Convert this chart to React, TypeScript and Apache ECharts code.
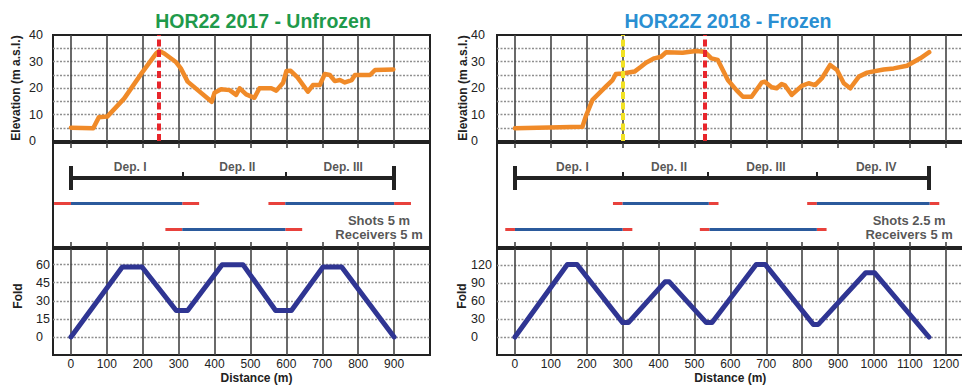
import React, { useEffect, useRef } from 'react';
import * as echarts from 'echarts';

// ---------------- Data ----------------
const titles = ['HOR22 2017 - Unfrozen', 'HOR22Z 2018 - Frozen'];

const elev2017: [number, number][] = [
  [0, 5], [62, 4.8], [78, 9], [101, 9.2], [148, 16], [199, 26], [237, 33], [246, 34], [260, 33],
  [293, 29.7], [306, 27.4], [325, 22.4], [392, 14.8], [400, 18.2], [418, 19.5], [442, 19.2],
  [460, 17.4], [470, 19.9], [488, 17.6], [511, 16.3], [525, 19.9], [558, 19.9], [572, 19],
  [591, 22], [600, 26.4], [612, 26.5], [631, 24], [660, 18.6], [674, 21.1], [693, 21.1],
  [707, 25.3], [721, 24.9], [735, 22.6], [749, 23], [763, 22.1], [782, 23], [791, 24.9],
  [833, 24.9], [847, 26.8], [898, 27],
];

const elev2018: [number, number][] = [
  [0, 4.8], [188, 5.4], [197, 9.2], [216, 15.5], [230, 17.4], [253, 20.5], [272, 23], [281, 25.3],
  [300, 25.5], [333, 26.2], [351, 28], [365, 29.5], [388, 31.2], [407, 31.8], [421, 33.5],
  [467, 33.3], [504, 34], [528, 33.7], [547, 31.2], [565, 30.6], [593, 23], [617, 19.2],
  [635, 16.7], [659, 16.7], [687, 22], [696, 22.4], [715, 20.3], [729, 19.9], [743, 21.5],
  [752, 21], [771, 17.4], [799, 20.8], [818, 21.8], [836, 21.1], [855, 23.7], [878, 28.7],
  [897, 26.8], [916, 21.8], [934, 19.9], [958, 24.3], [981, 25.8], [1027, 27], [1055, 27.4],
  [1092, 28.4], [1129, 31.2], [1154, 33.5],
];

const fold2017: [number, number][] = [
  [0, 0], [143, 58], [198, 58], [293, 22], [325, 22], [421, 60], [479, 60],
  [570, 22], [614, 22], [702, 58], [754, 58], [900, 0],
];

const fold2018: [number, number][] = [
  [0, 0], [146, 121], [173, 121], [300, 24], [316, 24], [418, 92], [430, 92],
  [533, 24], [549, 24], [672, 121], [697, 121], [831, 21], [845, 21],
  [977, 107], [1002, 107], [1153, 0],
];

const depBreaks2017 = [0, 310, 597, 900];
const depBreaks2018 = [0, 300, 538, 840, 1153];
const depNames2017 = ['Dep. I', 'Dep. II', 'Dep. III'];
const depNames2018 = ['Dep. I', 'Dep. II', 'Dep. III', 'Dep. IV'];

// receiver spreads: [from, to, row]
const spreads2017: [number, number, number][] = [[0, 310, 0], [597, 900, 0], [310, 597, 1]];
const spreads2018: [number, number, number][] = [[300, 540, 0], [841, 1155, 0], [0, 300, 1], [542, 841, 1]];
const shotExt2017 = 47;
const shotExt2018 = 27;

const spacing2017 = ['Shots 5 m', 'Receivers 5 m'];
const spacing2018 = ['Shots 2.5 m', 'Receivers 5 m'];

const markers2017 = [{ x: 245, color: '#e8262c' }];
const markers2018 = [{ x: 300, color: '#f2e224' }, { x: 530, color: '#e8262c' }];

// ---------------- Styles ----------------
const FONT = 'Liberation Sans, Arial, Helvetica, sans-serif';
const ORANGE = '#f08a28';
const NAVY = '#2f3593';
const BLUE = '#2b5a9c';
const RED = '#e8413c';
const FRAME = '#222';
const VGRID = '#444444';
const HGRID = '#8f8f8f';

type Panel = {
  left: number; width: number; xMax: number; labelMax: number;
  elev: [number, number][]; fold: [number, number][];
  foldMin: number; foldMax: number; foldStep: number; foldLabelMax: number;
  breaks: number[]; names: string[]; spreads: [number, number, number][]; ext: number;
  spacing: string[]; spacingX: number; markers: { x: number; color: string }[];
  distPad: number; elevMargin: number; foldMargin: number; elevGap: number; foldGap: number;
  title: string; titleX: number; titleColor: string;
};

const panels: Panel[] = [
  {
    left: 53, width: 377, xMax: 1000, labelMax: 900, elev: elev2017, fold: fold2017,
    foldMin: -15, foldMax: 73, foldStep: 15, foldLabelMax: 60,
    breaks: depBreaks2017, names: depNames2017, spreads: spreads2017, ext: shotExt2017,
    spacing: spacing2017, spacingX: 858, markers: markers2017,
    distPad: 30, elevMargin: 24, foldMargin: 17, elevGap: 31, foldGap: 29,
    title: titles[0], titleX: 263, titleColor: '#1f9a4b',
  },
  {
    left: 497, width: 466.7, xMax: 1250, labelMax: 1200, elev: elev2018, fold: fold2018,
    foldMin: -30, foldMax: 146.7, foldStep: 30, foldLabelMax: 120,
    breaks: depBreaks2018, names: depNames2018, spreads: spreads2018, ext: shotExt2018,
    spacing: spacing2018, spacingX: 1098, markers: markers2018,
    distPad: 0, elevMargin: 26, foldMargin: 26, elevGap: 28, foldGap: 29,
    title: titles[1], titleX: 728, titleColor: '#2a8fd2',
  },
];

const ROWS = { top: 35, topH: 106, mid: 143, midH: 104, bot: 249, botH: 106 };
const MID = { bar: 35, capTop: 23, capBot: 47, tickTop: 29, label: 24, rowY: [60, 86], text: [77, 91], edgeTick: 5 };

// grid-line mark lines, placed through the axis scales
function gridMarks(xMax: number, xStep: number, yMin: number, yMax: number, yStep: number) {
  const marks: any[] = [];
  for (let y = Math.ceil(yMin / yStep) * yStep; y < yMax; y += yStep) {
    if (y <= yMin) continue;
    marks.push({ yAxis: y, lineStyle: { color: HGRID, width: 1.3, type: [2, 1.5], opacity: 1 } });
  }
  for (let x = 0; x < xMax; x += xStep) {
    marks.push({ xAxis: x, lineStyle: { color: VGRID, width: 1.6, type: 'solid', opacity: 1 } });
  }
  return marks;
}

function edgeTicks(xMax: number, xStep: number) {
  const segs: any[] = [];
  for (let x = 0; x < xMax; x += xStep) {
    segs.push({ coords: [[x, 0], [x, MID.edgeTick]], lineStyle: { width: 1.6, color: VGRID } });
    segs.push({ coords: [[x, ROWS.midH - MID.edgeTick], [x, ROWS.midH]], lineStyle: { width: 1.6, color: VGRID } });
  }
  return segs;
}

function buildOption() {
  const grid: any[] = [];
  const xAxis: any[] = [];
  const yAxis: any[] = [];
  const series: any[] = [];
  const graphic: any[] = [];

  panels.forEach((p, pi) => {
    const base = pi * 3;
    const gridCommon = {
      left: p.left, width: p.width, show: true, borderColor: FRAME, borderWidth: 2,
      outerBoundsMode: 'none', containLabel: false,
    };
    grid.push({ ...gridCommon, top: ROWS.top, height: ROWS.topH });
    grid.push({ ...gridCommon, top: ROWS.mid, height: ROWS.midH });
    grid.push({ ...gridCommon, top: ROWS.bot, height: ROWS.botH });

    const hidden = { axisLine: { show: false }, axisTick: { show: false }, splitLine: { show: false } };

    // x axes
    xAxis.push({
      gridIndex: base, type: 'value', min: -50, max: p.xMax, interval: 50, ...hidden,
      axisLabel: { show: false },
    });
    xAxis.push({
      gridIndex: base + 1, type: 'value', min: -50, max: p.xMax, show: false, ...hidden,
    });
    xAxis.push({
      gridIndex: base + 2, type: 'value', min: -50, max: p.xMax, interval: 50, ...hidden,
      axisLabel: {
        show: true, margin: 3, fontSize: 12, color: '#222', fontFamily: FONT,
        showMinLabel: true, showMaxLabel: true,
        formatter: (v: number) => (v >= 0 && v <= p.labelMax && v % 100 === 0 ? String(v) : ''),
      },
      name: 'Distance (m)', nameLocation: 'middle', nameGap: 17, nameMoveOverlap: false,
      nameTextStyle: {
        fontSize: 12, fontWeight: 'bold', color: '#222', fontFamily: FONT,
        padding: [0, 0, 0, p.distPad],
      },
    });

    // y axes
    yAxis.push({
      gridIndex: base, type: 'value', min: 0, max: 40, interval: 5, ...hidden,
      axisLabel: {
        align: 'left', margin: p.elevMargin, fontSize: 12.5, color: '#222', fontFamily: FONT,
        formatter: (v: number) => (v % 10 === 0 ? String(v) : ''),
      },
      name: 'Elevation (m a.s.l.)', nameLocation: 'middle', nameGap: p.elevGap, nameMoveOverlap: false,
      nameTextStyle: { fontSize: 12, fontWeight: 'bold', color: '#222', fontFamily: FONT },
    });
    yAxis.push({
      gridIndex: base + 1, type: 'value', min: 0, max: ROWS.midH, inverse: true, show: false, ...hidden,
    });
    yAxis.push({
      gridIndex: base + 2, type: 'value', min: p.foldMin, max: p.foldMax, interval: p.foldStep, ...hidden,
      axisLabel: {
        align: 'left', margin: p.foldMargin, fontSize: 12.5, color: '#222', fontFamily: FONT,
        showMaxLabel: false,
        formatter: (v: number) =>
          v >= 0 && v <= p.foldLabelMax && v % p.foldStep === 0 ? String(v) : '',
      },
      name: 'Fold', nameLocation: 'middle', nameGap: p.foldGap, nameMoveOverlap: false,
      nameTextStyle: {
        fontSize: 12, fontWeight: 'bold', color: '#222', fontFamily: FONT, padding: [0, 0, 0, 12],
      },
    });

    // invisible carrier series holding the grid lines as mark lines (drawn below data)
    const carrier = (xi: number, data: [number, number][], marks: any[]) => ({
      type: 'line', xAxisIndex: xi, yAxisIndex: xi, data, symbol: 'none', silent: true, z: 2,
      lineStyle: { opacity: 0, width: 0 },
      markLine: {
        silent: true, symbol: ['none', 'none'], label: { show: false }, z: 2,
        precision: 4, data: marks,
      },
    });
    series.push(carrier(base, p.elev, gridMarks(p.xMax, 100, 0, 40, 5)));
    series.push(carrier(base + 2, p.fold, gridMarks(p.xMax, 100, p.foldMin, p.foldMax, p.foldStep)));

    const segSeries = (xi: number, data: any[]) => ({
      type: 'lines', coordinateSystem: 'cartesian2d', xAxisIndex: xi, yAxisIndex: xi,
      polyline: false, silent: true, z: 3,
      lineStyle: { opacity: 1, curveness: 0, cap: 'butt' },
      data,
    });
    series.push(segSeries(base + 1, edgeTicks(p.xMax, 100)));

    // elevation profile
    series.push({
      type: 'line', xAxisIndex: base, yAxisIndex: base, data: p.elev,
      symbol: 'none', smooth: false, z: 4,
      lineStyle: { color: ORANGE, width: 4.5, join: 'round', cap: 'round' },
      markLine: {
        silent: true, symbol: ['none', 'none'], label: { show: false },
        data: p.markers.map((m) => ({
          xAxis: m.x, lineStyle: { color: m.color, width: 4, type: [7, 3.5] },
        })),
      },
    });

    // fold
    series.push({
      type: 'line', xAxisIndex: base + 2, yAxisIndex: base + 2, data: p.fold,
      symbol: 'none', smooth: false, z: 4,
      lineStyle: { color: NAVY, width: 5, join: 'round', cap: 'round' },
    });

    // deployment diagram
    const segs: any[] = [];
    const b = p.breaks;
    const first = b[0];
    const last = b[b.length - 1];
    segs.push({ coords: [[first, MID.bar], [last, MID.bar]], lineStyle: { width: 4, color: FRAME } });
    segs.push({ coords: [[first, MID.capTop], [first, MID.capBot]], lineStyle: { width: 4, color: FRAME } });
    segs.push({ coords: [[last, MID.capTop], [last, MID.capBot]], lineStyle: { width: 4, color: FRAME } });
    b.slice(1, -1).forEach((x) => {
      segs.push({ coords: [[x, MID.tickTop], [x, MID.bar]], lineStyle: { width: 2, color: FRAME } });
    });
    p.spreads.forEach(([from, to, row]) => {
      const y = MID.rowY[row];
      segs.push({ coords: [[from - p.ext, y], [from, y]], lineStyle: { width: 3, color: RED } });
      segs.push({ coords: [[to, y], [to + p.ext, y]], lineStyle: { width: 3, color: RED } });
      segs.push({ coords: [[from, y], [to, y]], lineStyle: { width: 3, color: BLUE } });
    });
    series.push(segSeries(base + 1, segs));

    const texts: any[] = [];
    p.names.forEach((n, i) => {
      texts.push({ name: n, value: [(b[i] + b[i + 1]) / 2 + 10, MID.label] });
    });
    p.spacing.forEach((t, i) => {
      texts.push({ name: t, value: [p.spacingX, MID.text[i]], label: { fontSize: 13 } });
    });
    series.push({
      type: 'scatter', xAxisIndex: base + 1, yAxisIndex: base + 1, symbolSize: 1, silent: true,
      itemStyle: { color: 'rgba(0,0,0,0)' }, z: 5,
      label: {
        show: true, position: 'inside', formatter: '{b}', fontSize: 12, fontWeight: 'bold',
        color: '#2a2a2a', fontFamily: FONT,
      },
      data: texts,
    });

    graphic.push({
      type: 'text', x: p.titleX, y: 21, silent: true,
      style: {
        text: p.title, textAlign: 'center', textVerticalAlign: 'middle', fill: p.titleColor,
        fontSize: 19.5, fontWeight: 'bold', fontFamily: FONT,
      },
    });
  });

  return {
    animation: false,
    textStyle: { fontFamily: FONT },
    grid, xAxis, yAxis, series, graphic,
  };
}

export default function App() {
  const ref = useRef<HTMLDivElement>(null);
  useEffect(() => {
    if (!ref.current) return;
    const chart = echarts.init(ref.current, undefined, { renderer: 'svg' });
    chart.setOption(buildOption() as any);
    return () => chart.dispose();
  }, []);
  return (
    <div
      ref={ref}
      style={{ position: 'fixed', left: 0, top: 0, width: 962, height: 387, background: '#fff' }}
    />
  );
}
